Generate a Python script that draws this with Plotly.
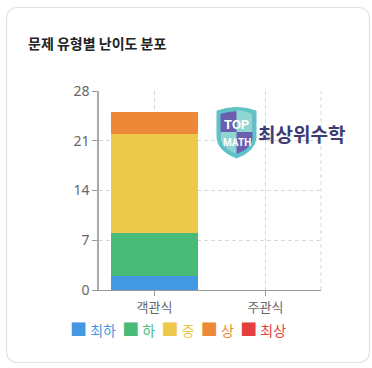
import plotly.graph_objects as go

W, H = 372, 368
L, R, T, B = 99, 321, 91, 290  # plot area in pixels

categories = ["객관식", "주관식"]
levels = ["최하", "하", "중", "상", "최상"]
values = {
    "최하": [2, 0],
    "하": [6, 0],
    "중": [14, 0],
    "상": [3, 0],
    "최상": [0, 0],
}
colors = ["#4299e1", "#48bb78", "#ecc94b", "#ed8936", "#e53e3e"]
y_ticks = [0, 7, 14, 21, 28]
title_text = "문제 유형별 난이도 분포"

FONT = "Noto Sans CJK KR"
DASH = "4px,3px"


def px(x):
    return (x - L) / (R - L)


def py(y):
    return (B - y) / (B - T)


def path(points):
    out = []
    for p in points:
        out.append(f"{px(p[0]):.5f},{py(p[1]):.5f}")
    return " ".join(out)


fig = go.Figure()
for name, col in zip(levels, colors):
    fig.add_trace(go.Bar(
        x=categories, y=values[name], name=name,
        marker=dict(color=col, line=dict(width=0)),
        width=0.79, showlegend=False,
    ))

shapes = []
# card
r = 12
x0, y0, x1, y1 = 6.5, 7.5, 369.5, 362.5
card = ("M " + path([(x0 + r, y0)]) + " L " + path([(x1 - r, y0)]) +
        " Q " + path([(x1, y0), (x1, y0 + r)]) + " L " + path([(x1, y1 - r)]) +
        " Q " + path([(x1, y1), (x1 - r, y1)]) + " L " + path([(x0 + r, y1)]) +
        " Q " + path([(x0, y1), (x0, y1 - r)]) + " L " + path([(x0, y0 + r)]) +
        " Q " + path([(x0, y0), (x0 + r, y0)]) + " Z")
shapes.append(dict(type="path", xref="paper", yref="paper", path=card,
                   line=dict(color="#e2e2e2", width=1.2), fillcolor="rgba(0,0,0,0)", layer="below"))
# right dashed border of plot
shapes.append(dict(type="line", xref="paper", yref="paper", x0=1, x1=1, y0=0, y1=1,
                   line=dict(color="#d8d8d8", width=1, dash=DASH), layer="below"))

# logo shield
cx = 236.5
shield_outer = ("M " + path([(217, 111)]) + " Q " + path([(cx, 104), (256, 111)]) +
                " L " + path([(256, 138)]) + " Q " + path([(255, 151), (cx, 158)]) +
                " Q " + path([(218, 151), (217, 138)]) + " Z")
shapes.append(dict(type="path", xref="paper", yref="paper", path=shield_outer,
                   line=dict(color="#5ec3c6", width=1), fillcolor="#5ec3c6"))
shield_inner = ("M " + path([(220.5, 114)]) + " Q " + path([(cx, 108.5), (252.5, 114)]) +
                " L " + path([(252.5, 138)]) + " Q " + path([(251.5, 148.5), (cx, 154)]) +
                " Q " + path([(221.5, 148.5), (220.5, 138)]) + " Z")
shapes.append(dict(type="path", xref="paper", yref="paper", path=shield_inner,
                   line=dict(width=0), fillcolor="#6a5fae"))
q1 = ("M " + path([(cx, 110)]) + " Q " + path([(245, 110.5), (252.5, 114)]) +
      " L " + path([(252.5, 132)]) + " L " + path([(cx, 132)]) + " Z")
shapes.append(dict(type="path", xref="paper", yref="paper", path=q1,
                   line=dict(width=0), fillcolor="#8ed6d2"))
q2 = ("M " + path([(220.5, 132)]) + " L " + path([(cx, 132)]) + " L " + path([(cx, 154)]) +
      " Q " + path([(221.5, 148.5), (220.5, 138)]) + " Z")
shapes.append(dict(type="path", xref="paper", yref="paper", path=q2,
                   line=dict(width=0), fillcolor="#8ed6d2"))

annotations = [
    dict(text=f"<b>{title_text}</b>", xref="paper", yref="paper", x=px(26), y=py(43),
         xanchor="left", yanchor="middle", showarrow=False,
         font=dict(family=FONT, size=14, color="#222222")),
    dict(text="<b>TOP</b>", xref="paper", yref="paper", x=px(cx), y=py(124),
         xanchor="center", yanchor="middle", showarrow=False,
         font=dict(family="Roboto", size=13, color="#ffffff")),
    dict(text="<b>MATH</b>", xref="paper", yref="paper", x=px(cx), y=py(142),
         xanchor="center", yanchor="middle", showarrow=False,
         font=dict(family="Roboto", size=10, color="#ffffff")),
    dict(text="<b>최상위수학</b>", xref="paper", yref="paper", x=px(256), y=py(133),
         xanchor="left", yanchor="middle", showarrow=False,
         font=dict(family=FONT, size=19, color="#3b3c73")),
]

# legend built from the level names and colours
legend_html = "&nbsp;&nbsp;".join(
    f"<span style='color:{c}'><span style='font-size:17px'>■</span> {n}</span>"
    for n, c in zip(levels, colors))
annotations.append(dict(text=legend_html, xref="paper", yref="paper", x=px(178), y=py(328),
                        xanchor="center", yanchor="middle", showarrow=False,
                        font=dict(family=FONT, size=14)))

fig.update_layout(
    width=W, height=H,
    margin=dict(l=L, r=W - R, t=T, b=H - B, pad=0),
    barmode="stack",
    bargap=0.21,
    paper_bgcolor="#ffffff",
    plot_bgcolor="#ffffff",
    font=dict(family=FONT, color="#666666"),
    showlegend=False,
    shapes=shapes,
    annotations=annotations,
    xaxis=dict(
        showgrid=True, gridcolor="#d8d8d8", griddash=DASH, gridwidth=1,
        showline=True, linecolor="#999999", linewidth=1,
        ticks="outside", ticklen=5, tickcolor="#999999",
        tickfont=dict(family=FONT, size=13, color="#666666"),
        ticklabelstandoff=0,
        fixedrange=True,
    ),
    yaxis=dict(
        range=[0, 28], tickvals=y_ticks,
        showgrid=True, gridcolor="#d8d8d8", griddash=DASH, gridwidth=1,
        showline=True, linecolor="#aaaaaa", linewidth=1.5,
        ticks="outside", ticklen=5, tickcolor="#999999",
        tickfont=dict(family="Noto Sans", size=14, color="#666666"),
        zeroline=False, fixedrange=True,
    ),
)

fig.write_html("out.html", config={"displayModeBar": False},
               post_script="document.body.style.margin='0';document.body.style.overflow='hidden';")
